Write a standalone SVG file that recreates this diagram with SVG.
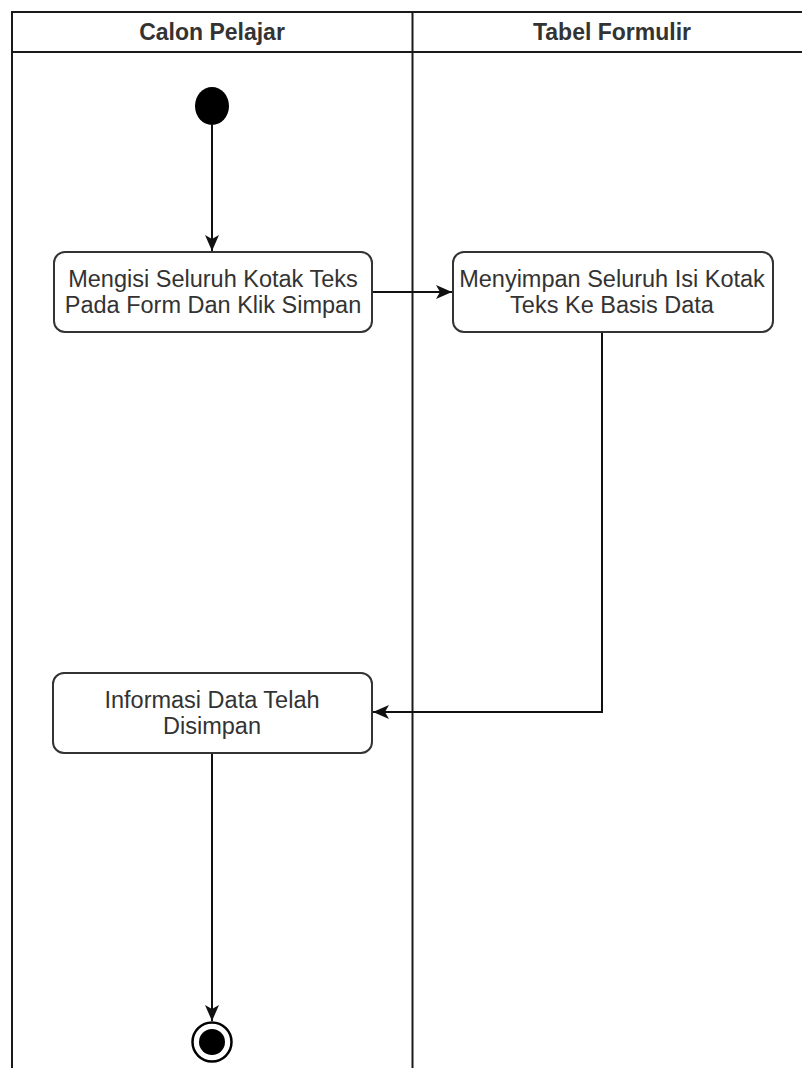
<svg xmlns="http://www.w3.org/2000/svg" width="802" height="1068" viewBox="0 0 802 1068">
<style>
.lane{fill:none;stroke:#1a1a1a;stroke-width:2}
.box{fill:#ffffff;stroke:#333333;stroke-width:2}
.hdr{font-family:"Liberation Sans",Arial,sans-serif;font-size:23px;font-weight:bold;fill:#333333;text-anchor:middle}
.lbl{font-family:"Liberation Sans",Arial,sans-serif;font-size:23.5px;fill:#333333;text-anchor:middle}
.edge{fill:none;stroke:#111111;stroke-width:2}
</style>
<defs>
<marker id="arr" viewBox="0 0 16 14" refX="16" refY="7" markerWidth="16" markerHeight="14" markerUnits="userSpaceOnUse" orient="auto">
<path d="M0,0 L16,7 L0,14 L4,7 Z" fill="#111111"/>
</marker>
</defs>
<rect width="802" height="1068" fill="#ffffff"/>
<g id="lanes">
<path class="lane" d="M12,1068 L12,12 L802,12 M12,52 L802,52 M412.5,12 L412.5,1068"/>
<text class="hdr" x="212" y="40">Calon Pelajar</text>
<text class="hdr" x="612" y="40">Tabel Formulir</text>
</g>
<g id="connectors">
<path class="edge" d="M212,125 L212,251" marker-end="url(#arr)"/>
<path class="edge" d="M372,292 L452,292" marker-end="url(#arr)"/>
<path class="edge" d="M602,332 L602,712 L373,712" marker-end="url(#arr)"/>
<path class="edge" d="M212,753 L212,1021" marker-end="url(#arr)"/>
</g>
<g id="start">
<ellipse cx="212" cy="106" rx="17" ry="19" fill="#000000"/>
</g>
<g id="node1">
<rect class="box" x="54" y="252" width="318" height="80" rx="11"/>
<text class="lbl" x="213" y="287">Mengisi Seluruh Kotak Teks</text>
<text class="lbl" x="213" y="313">Pada Form Dan Klik Simpan</text>
</g>
<g id="node2">
<rect class="box" x="453" y="252" width="320" height="80" rx="11"/>
<text class="lbl" x="612" y="287">Menyimpan Seluruh Isi Kotak</text>
<text class="lbl" x="612" y="313">Teks Ke Basis Data</text>
</g>
<g id="node3">
<rect class="box" x="53" y="673" width="319" height="80" rx="11"/>
<text class="lbl" x="212" y="708">Informasi Data Telah</text>
<text class="lbl" x="212" y="734">Disimpan</text>
</g>
<g id="end">
<circle cx="212" cy="1042" r="19.5" fill="#ffffff" stroke="#000000" stroke-width="2.5"/>
<circle cx="212" cy="1042" r="13" fill="#000000"/>
</g>
</svg>
